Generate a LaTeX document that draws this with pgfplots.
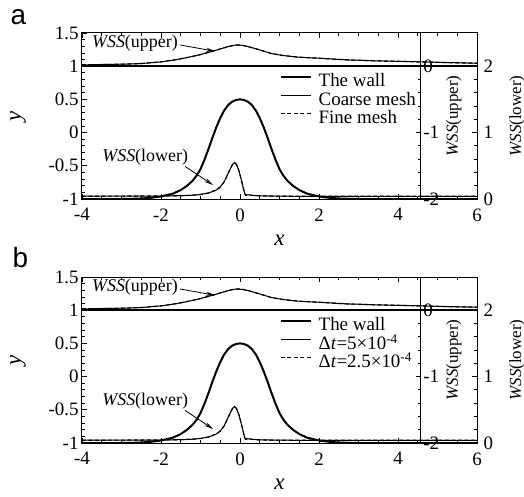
\documentclass[border=0pt]{standalone}
\usepackage{pgfplots}
\pgfplotsset{compat=1.18}
\usepackage{pgfplotstable}
\usetikzlibrary{arrows.meta}
\usepackage{fontspec}
\setmainfont{Liberation Serif}
\newfontfamily\panelfont{Liberation Sans}

\pgfplotstableread{
x y
-4 -1
-3 -1
-2.6 -0.995
-2.3 -0.985
-2.0 -0.962
-1.7 -0.92
-1.5 -0.865
-1.35 -0.805
-1.2 -0.725
-1.1 -0.65
-1.0 -0.55
-0.9 -0.41
-0.8 -0.25
-0.7 -0.08
-0.6 0.08
-0.5 0.22
-0.4 0.335
-0.3 0.415
-0.2 0.465
-0.1 0.492
0 0.5
0.1 0.492
0.2 0.465
0.3 0.415
0.4 0.335
0.5 0.22
0.6 0.08
0.7 -0.08
0.8 -0.25
0.9 -0.41
1.0 -0.55
1.1 -0.65
1.2 -0.725
1.35 -0.805
1.5 -0.865
1.7 -0.92
2.0 -0.962
2.3 -0.985
2.6 -0.995
3 -1
6 -1
}\wall

\pgfplotstableread{
x y
-4 1.02
-3.5 1.025
-3 1.03
-2.5 1.04
-2 1.065
-1.6 1.10
-1.3 1.135
-1 1.175
-0.7 1.225
-0.5 1.26
-0.3 1.295
-0.15 1.315
-0.05 1.32
0.1 1.31
0.3 1.28
0.5 1.245
0.8 1.19
1.1 1.16
1.5 1.135
2 1.12
2.7 1.095
3.5 1.08
4.4 1.068
5.2 1.055
6 1.045
}\wssup

\pgfplotstableread{
x y
-4 -0.958
-2 -0.955
-1.5 -0.95
-1.2 -0.943
-1.0 -0.932
-0.8 -0.91
-0.6 -0.865
-0.5 -0.82
-0.4 -0.74
-0.32 -0.64
-0.25 -0.55
-0.19 -0.48
-0.14 -0.45
-0.09 -0.48
-0.03 -0.57
0.02 -0.68
0.07 -0.80
0.11 -0.90
0.14 -0.945
0.2 -0.935
0.3 -0.945
0.5 -0.952
1 -0.958
2 -0.96
6 -0.96
}\wsslow

\pgfplotsset{
  panel/.style={
    width=395bp, height=166bp, scale only axis,
    xmin=-4, xmax=6, ymin=-1, ymax=1.5,
    tick align=inside,
    major tick length=5bp, minor tick length=3bp,
    /pgf/number format/assume math mode=true,
    ticklabel style={font=\rmfamily\fontsize{19}{22}\selectfont},
    axis line style={line width=1bp},
    every tick/.style={line width=0.8bp, black},
  },
  mainaxis/.style={
    panel,
    xtick={-4,-2,0,2,4,6}, ytick={-1,-0.5,0,0.5,1,1.5},
    minor x tick num=3, minor y tick num=4,
    ytick pos=left,
    xticklabel style={yshift=-6bp},
    xlabel={\textit{x}}, ylabel={\textit{y}},
    xlabel style={font=\rmfamily\fontsize{23}{26}\selectfont, at={(axis description cs:0.5,0)}, anchor=center, yshift=-41bp},
    ylabel style={font=\rmfamily\fontsize{23}{26}\selectfont, at={(axis description cs:0,0.5)}, anchor=center, yshift=64bp},
    legend style={draw=none, fill=none, inner sep=0pt, at={(0.5,0.755)}, anchor=north west,
      font=\rmfamily\fontsize{19}{22}\selectfont,
      nodes={inner sep=0pt, text height=13bp, text depth=3bp},
      row sep=2.5bp,
      /tikz/every odd column/.append style={column sep=7bp}},
    legend cell align=left,
    legend image code/.code={\draw[##1] (0bp,5bp) -- (30bp,5bp);},
  },
  lowaxis/.style={
    panel, ymin=0, ymax=2.5,
    axis y line*=right, axis x line=none,
    ytick={0,1,2}, minor y tick num=4,
    yticklabel style={anchor=west, xshift=3bp},
    ylabel={\textit{WSS}(lower)},
    ylabel style={font=\rmfamily\fontsize{17}{20}\selectfont, at={(axis description cs:1,0.5)}, anchor=center, yshift=-40bp},
  },
  upaxis/.style={
    panel, width=338.9bp, xmax=4.58, ymin=-2, ymax=0.5,
    axis y line*=right, axis x line=none,
    ytick={-2,-1,0}, minor y tick num=4,
    yticklabel style={anchor=west, xshift=-1bp},
    ylabel={\textit{WSS}(upper)},
    ylabel style={font=\rmfamily\fontsize{17}{20}\selectfont, at={(axis description cs:1,0.5)}, anchor=center, yshift=-33bp},
  },
  wallstyle/.style={black, line width=2bp},
  coarse/.style={black, line width=1bp},
  fine/.style={black, line width=1.2bp, dash pattern=on 4bp off 2.5bp},
}

\begin{document}
\begin{tikzpicture}
\path[use as bounding box] (-82bp,-298bp) rectangle (442bp,199bp);

% ---------------- panel a ----------------
\node[font=\panelfont\fontsize{28}{28}\selectfont, anchor=base west] at (-75bp,174bp) {a};
\begin{axis}[mainaxis, at={(0bp,0bp)}, anchor=south west]
\addplot[wallstyle] table {\wall}; \addlegendentry{The wall}
\addplot[coarse] table {\wsslow}; \addlegendentry{Coarse mesh}
\addplot[fine] table {\wsslow}; \addlegendentry{Fine mesh}
\addplot[wallstyle, forget plot] coordinates {(-4,1) (6,1)};
\addplot[coarse, forget plot] table {\wssup};
\addplot[fine, forget plot] table {\wssup};
\node[font=\rmfamily\fontsize{18}{20}\selectfont] at (axis cs:-2.66,1.35) {\textit{WSS}(upper)};
\draw[line width=0.8bp, -{Stealth[length=9bp,width=4bp]}] (axis cs:-1.52,1.32) -- (axis cs:-0.63,1.225);
\node[font=\rmfamily\fontsize{18}{20}\selectfont] at (axis cs:-2.4,-0.37) {\textit{WSS}(lower)};
\draw[line width=0.8bp, -{Stealth[length=9bp,width=4bp]}] (axis cs:-1.39,-0.51) -- (axis cs:-0.68,-0.79);
\end{axis}
\begin{axis}[lowaxis, at={(0bp,0bp)}, anchor=south west]
\addplot[draw=none, forget plot] coordinates {(0,0)};
\end{axis}
\begin{axis}[upaxis, at={(0bp,0bp)}, anchor=south west]
\addplot[draw=none, forget plot] coordinates {(0,0)};
\end{axis}

% ---------------- panel b ----------------
\node[font=\panelfont\fontsize{28}{28}\selectfont, anchor=base west] at (-73bp,-68bp) {b};
\begin{axis}[mainaxis, at={(0bp,-244bp)}, anchor=south west]
\addplot[wallstyle] table {\wall}; \addlegendentry{The wall}
\addplot[coarse] table {\wsslow}; \addlegendentry{Δ\textit{t}=5×10\textsuperscript{-4}}
\addplot[fine] table {\wsslow}; \addlegendentry{Δ\textit{t}=2.5×10\textsuperscript{-4}}
\addplot[wallstyle, forget plot] coordinates {(-4,1) (6,1)};
\addplot[coarse, forget plot] table {\wssup};
\addplot[fine, forget plot] table {\wssup};
\node[font=\rmfamily\fontsize{18}{20}\selectfont] at (axis cs:-2.66,1.35) {\textit{WSS}(upper)};
\draw[line width=0.8bp, -{Stealth[length=9bp,width=4bp]}] (axis cs:-1.52,1.32) -- (axis cs:-0.63,1.225);
\node[font=\rmfamily\fontsize{18}{20}\selectfont] at (axis cs:-2.4,-0.37) {\textit{WSS}(lower)};
\draw[line width=0.8bp, -{Stealth[length=9bp,width=4bp]}] (axis cs:-1.39,-0.51) -- (axis cs:-0.68,-0.79);
\end{axis}
\begin{axis}[lowaxis, at={(0bp,-244bp)}, anchor=south west]
\addplot[draw=none, forget plot] coordinates {(0,0)};
\end{axis}
\begin{axis}[upaxis, at={(0bp,-244bp)}, anchor=south west]
\addplot[draw=none, forget plot] coordinates {(0,0)};
\end{axis}
\end{tikzpicture}
\end{document}
